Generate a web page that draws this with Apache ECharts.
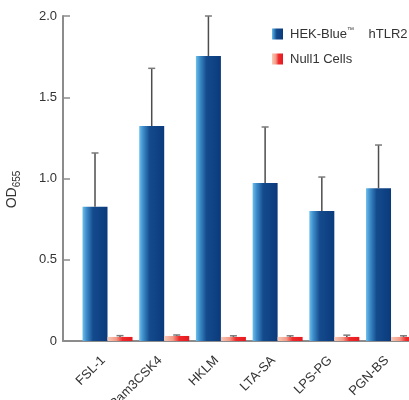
<!DOCTYPE html>
<html>
<head>
<meta charset="utf-8">
<script src="https://cdn.jsdelivr.net/npm/echarts@6/dist/echarts.min.js"></script>
<style>html,body{margin:0;padding:0;background:#fff;}#c{width:409px;height:400px;}</style>
</head>
<body>
<div id="c"></div>
<script>
var categories = ['FSL-1', 'Pam3CSK4', 'HKLM', 'LTA-SA', 'LPS-PG', 'PGN-BS'];
var hekValues = [0.826, 1.323, 1.754, 0.972, 0.80, 0.94];
var hekErrTop = [1.157, 1.678, 2.0, 1.317, 1.009, 1.206];
var nullValues = [0.025, 0.031, 0.025, 0.025, 0.025, 0.025];
var nullErrTop = [0.033, 0.037, 0.032, 0.032, 0.036, 0.032];
var yTicks = [0, 0.5, 1.0, 1.5, 2.0];

var BAR_W = 25;
var blueGrad = new echarts.graphic.LinearGradient(0, 0, 1, 0, [
  {offset: 0, color: '#6ec0ea'},
  {offset: 0.15, color: '#3f8fcc'},
  {offset: 0.42, color: '#144b8d'},
  {offset: 1, color: '#0a3a7c'}
]);
var redGrad = new echarts.graphic.LinearGradient(0, 0, 1, 0, [
  {offset: 0, color: '#f8cbb6'},
  {offset: 0.35, color: '#f39a88'},
  {offset: 0.6, color: '#ee2c2c'},
  {offset: 1, color: '#e8171f'}
]);

function pairs(vals) { return vals.map(function (v, i) { return [i, v]; }); }
function errData(vals, tops) { return vals.map(function (v, i) { return [i, v, tops[i]]; }); }

function errRender(shift) {
  return function (params, api) {
    var p0 = api.coord([api.value(0), api.value(1)]);
    var p1 = api.coord([api.value(0), api.value(2)]);
    var x = p0[0] + shift;
    return {
      type: 'group',
      children: [
        {type: 'line', shape: {x1: x, y1: p0[1], x2: x, y2: p1[1]}, style: {stroke: '#4d4d4d', lineWidth: 1.5}},
        {type: 'line', shape: {x1: x - 3.5, y1: p1[1], x2: x + 3.5, y2: p1[1]}, style: {stroke: '#7a7a7a', lineWidth: 1.5}}
      ]
    };
  };
}

var chart = echarts.init(document.getElementById('c'));
chart.setOption({
  animation: false,
  backgroundColor: '#fff',
  textStyle: {fontFamily: 'Liberation Sans, Arial, sans-serif'},
  grid: {left: 63, right: 0, top: 16, bottom: 59, containLabel: false, outerBoundsMode: 'none'},
  legend: {
    orient: 'vertical', left: 267, top: 22, itemWidth: 11, itemHeight: 11, itemGap: 12,
    icon: 'rect',
    data: ['HEK-Blue hTLR2', 'Null1 Cells'],
    formatter: function (n) {
      if (n === 'HEK-Blue hTLR2') return '{a|HEK-Blue}{tm|™}{a|    hTLR2}';
      return '{a|Null1 Cells}';
    },
    textStyle: {
      padding: [0, 0, 0, 2],
      rich: {
        a: {fontSize: 13, color: '#333', lineHeight: 14, fontFamily: 'Liberation Sans, Arial, sans-serif'},
        tm: {fontSize: 7, color: '#333', lineHeight: 14, verticalAlign: 'top', fontFamily: 'Liberation Sans, Arial, sans-serif'}
      }
    }
  },
  xAxis: {
    type: 'value', min: -0.785, max: 5.317,
    splitLine: {show: false},
    axisLine: {show: true, onZero: false, lineStyle: {color: '#8c8c8c', width: 2}},
    axisTick: {show: false},
    axisLabel: {
      customValues: [0, 1, 2, 3, 4, 5],
      rotate: 45, fontSize: 13, color: '#333', margin: 13, padding: [0, 6, 0, 0],
      formatter: function (v) { return categories[Math.round(v)]; }
    }
  },
  yAxis: {
    type: 'value', min: 0, max: 2, interval: 0.5,
    splitLine: {show: false},
    axisLine: {show: true, onZero: false, lineStyle: {color: '#8c8c8c', width: 2}},
    axisTick: {show: true, inside: true, length: 7, lineStyle: {color: '#8c8c8c', width: 1.5}},
    axisLabel: {
      fontSize: 13, color: '#333', margin: 6,
      formatter: function (v) { return v === 0 ? '0' : v.toFixed(1); }
    },
    name: '{a|OD}{b|655}', nameLocation: 'middle', nameGap: 44, nameRotate: 90,
    nameTextStyle: {
      padding: [0, 22, 0, 0],
      rich: {
        a: {fontSize: 14, color: '#333'},
        b: {fontSize: 10, color: '#333', verticalAlign: 'bottom', padding: [0, 0, -3, 0]}
      }
    }
  },
  series: [
    {name: 'HEK-Blue hTLR2', type: 'bar', data: pairs(hekValues), barWidth: BAR_W, barGap: '0%', itemStyle: {color: blueGrad}, z: 2},
    {name: 'Null1 Cells', type: 'bar', data: pairs(nullValues), barWidth: BAR_W, barGap: '0%', itemStyle: {color: redGrad}, z: 2},
    {type: 'custom', renderItem: errRender(-BAR_W / 2), data: errData(hekValues, hekErrTop), z: 3, silent: true},
    {type: 'custom', renderItem: errRender(BAR_W / 2), data: errData(nullValues, nullErrTop), z: 3, silent: true}
  ]
});
</script>
</body>
</html>
